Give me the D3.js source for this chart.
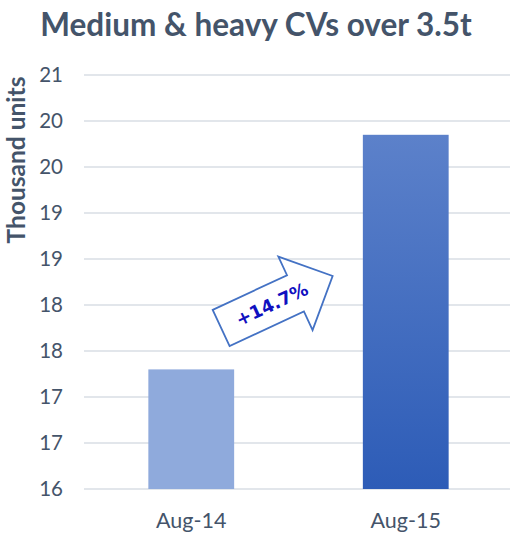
<!DOCTYPE html>
<html>
<head>
<meta charset="utf-8">
<script src="https://cdn.jsdelivr.net/npm/d3@7"></script>
<style>
  html, body { margin: 0; padding: 0; background: #fff; }
  text { font-family: Lato, "Open Sans", sans-serif; }
</style>
</head>
<body>
<div id="my_dataviz"></div>
<script>
// data
const categories = ["Aug-14", "Aug-15"];
const values = [17.3, 19.85];
const yTicks = [16, 16.5, 17, 17.5, 18, 18.5, 19, 19.5, 20, 20.5];
const titleText = "Medium & heavy CVs over 3.5t";
const yTitle = "Thousand units";
const changeLabel = "+14.7%";

// set the dimensions and margins of the graph
var W = 510, H = 535;
var margin = { top: 75, right: 0, bottom: 46, left: 84 },
    width = W - margin.left - margin.right,
    height = H - margin.top - margin.bottom;

var textColor = "#44546a";

var svg = d3.select("#my_dataviz")
    .append("svg")
    .attr("width", W)
    .attr("height", H);

// gradient for the second bar
var defs = svg.append("defs");
var grad = defs.append("linearGradient")
    .attr("id", "barGrad")
    .attr("x1", 0).attr("y1", 0).attr("x2", 0).attr("y2", 1);
grad.append("stop").attr("offset", "0%").attr("stop-color", "#5c81ca");
grad.append("stop").attr("offset", "100%").attr("stop-color", "#2d5cb7");

var g = svg.append("g")
    .attr("transform", `translate(${margin.left},${margin.top})`);

// title
svg.append("text")
    .attr("x", 256)
    .attr("y", 36)
    .attr("text-anchor", "middle")
    .attr("font-size", "31.5px")
    .attr("font-weight", "bold")
    .attr("fill", textColor)
    .text(titleText);

// scales
var x = d3.scaleBand()
    .domain(categories)
    .range([0, width + 3])
    .paddingInner(0.6)
    .paddingOuter(0.3);

var y = d3.scaleLinear()
    .domain([16, 20.5])
    .range([height, 0]);

// gridlines
g.append("g")
    .selectAll("line")
    .data(yTicks)
    .join("line")
    .attr("x1", 0)
    .attr("x2", width)
    .attr("y1", d => y(d))
    .attr("y2", d => y(d))
    .attr("stroke", "#d9dee5")
    .attr("stroke-width", 1.3);

// Y axis labels (rounded like Excel does)
var yAxis = g.append("g")
    .call(d3.axisLeft(y)
        .tickValues(yTicks)
        .tickSize(0)
        .tickPadding(21)
        .tickFormat(d => String(Math.floor(d + 0.5))));
yAxis.select(".domain").remove();
yAxis.selectAll("text")
    .attr("font-size", "20.5px")
    .attr("fill", textColor)
    .style("font-family", "Lato, sans-serif");

svg.append("text")
    .attr("transform", `translate(25, 160) rotate(-90)`)
    .attr("text-anchor", "middle")
    .attr("font-size", "24.5px")
    .attr("font-weight", "bold")
    .attr("fill", textColor)
    .text(yTitle);

// bars
g.selectAll("rect.bar")
    .data(categories)
    .join("rect")
    .attr("class", "bar")
    .attr("x", d => x(d))
    .attr("y", (d, i) => y(values[i]))
    .attr("width", x.bandwidth())
    .attr("height", (d, i) => height - y(values[i]))
    .attr("fill", (d, i) => i === 0 ? "#8faadc" : "url(#barGrad)");

// X axis labels
var xAxis = g.append("g")
    .attr("transform", `translate(0, ${height})`)
    .call(d3.axisBottom(x).tickSize(0));
xAxis.select(".domain").remove();
xAxis.selectAll("text")
    .attr("y", 39)
    .attr("dy", null)
    .attr("font-size", "21.5px")
    .attr("fill", textColor)
    .style("font-family", "Lato, sans-serif");

// growth arrow between the bars
var ax = x(categories[0]) + x.bandwidth() - 13,
    ay = y(17.75);
var bodyLen = 82, bodyHalf = 20, headLen = 41, headHalf = 40.5;
var arrowPts = [
    [0, -bodyHalf], [bodyLen, -bodyHalf], [bodyLen, -headHalf],
    [bodyLen + headLen, 0],
    [bodyLen, headHalf], [bodyLen, bodyHalf], [0, bodyHalf]
];
var arrow = g.append("g")
    .attr("transform", `translate(${ax},${ay}) rotate(-25)`);
arrow.append("path")
    .attr("d", d3.line()(arrowPts) + "Z")
    .attr("fill", "#fff")
    .attr("stroke", "#4472c4")
    .attr("stroke-width", 1.8)
    .attr("stroke-linejoin", "miter");
arrow.append("text")
    .attr("x", 56)
    .attr("y", 0)
    .attr("dy", "0.35em")
    .attr("text-anchor", "middle")
    .attr("font-size", "18px")
    .attr("font-weight", "bold")
    .attr("fill", "#1010c0")
    .style("font-family", "'DejaVu Sans', sans-serif")
    .text(changeLabel);
</script>
</body>
</html>
